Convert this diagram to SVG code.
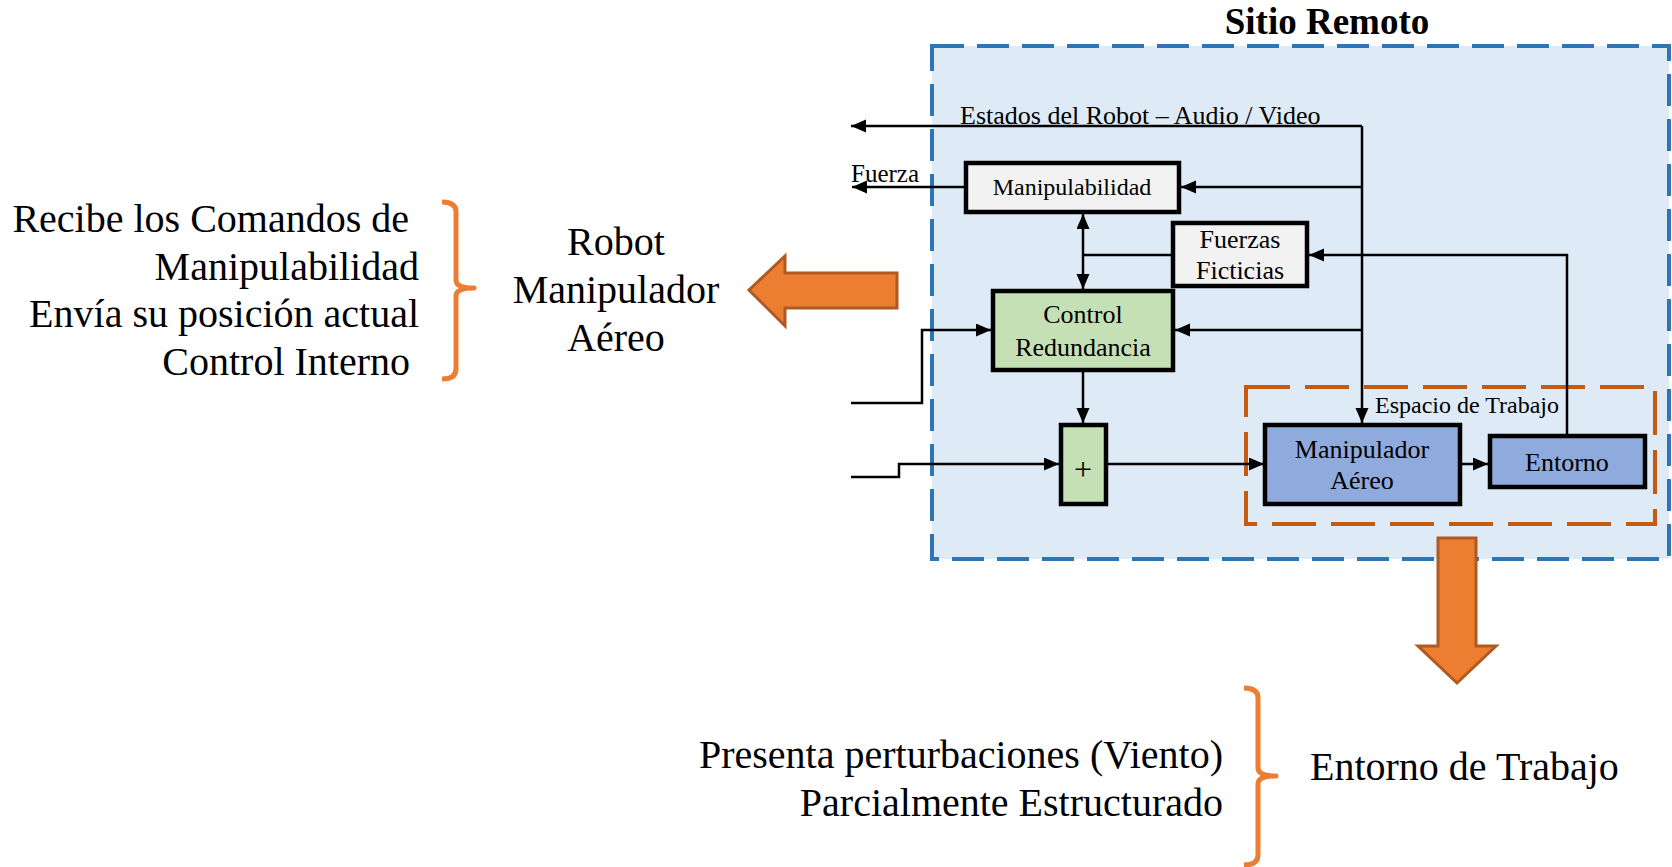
<svg xmlns="http://www.w3.org/2000/svg" width="1672" height="867" viewBox="0 0 1672 867">
<style>
text{font-family:"Liberation Serif","Times New Roman",serif;fill:#000}
.big{font-size:40px}
.lbl{font-size:25px}
.bx{font-size:26px;text-anchor:middle}
.node{stroke:#000;stroke-width:4.5}
.ln{fill:none;stroke:#000;stroke-width:2.5}
.brace{fill:none;stroke:#ED7D31;stroke-width:5;stroke-linejoin:round}
.barrow{fill:#ED7D31;stroke:#AE5A21;stroke-width:3;stroke-linejoin:miter}
</style>
<defs>
<marker id="ah" markerUnits="userSpaceOnUse" markerWidth="16" markerHeight="14" refX="15" refY="6.5" orient="auto-start-reverse" viewBox="0 0 16 14">
<path d="M0,0 L15,6.5 L0,13 z" fill="#000"/>
</marker>
</defs>
<rect width="1672" height="867" fill="#fff"/>

<g id="sitio-remoto">
<rect x="932" y="46" width="737" height="513" fill="#DEEBF7" stroke="#2E75B6" stroke-width="4" stroke-dasharray="32 13"/>
<text x="1327" y="34" text-anchor="middle" style="font-size:37px;font-weight:bold">Sitio Remoto</text>
</g>

<g id="espacio-trabajo">
<rect x="1246" y="387" width="409" height="137" fill="none" stroke="#C55A11" stroke-width="4" stroke-dasharray="44 15"/>
<text x="1375" y="413" style="font-size:24px">Espacio de Trabajo</text>
</g>

<g id="connectors">
<polyline class="ln" points="1362,126 851,126" marker-end="url(#ah)"/>
<line class="ln" x1="1362" y1="126" x2="1362" y2="423" marker-end="url(#ah)"/>
<line class="ln" x1="1362" y1="187" x2="1181" y2="187" marker-end="url(#ah)"/>
<line class="ln" x1="966" y1="187" x2="852" y2="187" marker-end="url(#ah)"/>
<line class="ln" x1="1083" y1="214" x2="1083" y2="289" marker-start="url(#ah)" marker-end="url(#ah)"/>
<line class="ln" x1="1173" y1="255" x2="1083" y2="255"/>
<polyline class="ln" points="1567,436 1567,255 1309,255" marker-end="url(#ah)"/>
<line class="ln" x1="1362" y1="330" x2="1175" y2="330" marker-end="url(#ah)"/>
<polyline class="ln" points="851,403 922,403 922,330 991,330" marker-end="url(#ah)"/>
<polyline class="ln" points="851,477 899,477 899,464 1059,464" marker-end="url(#ah)"/>
<line class="ln" x1="1083" y1="370" x2="1083" y2="423" marker-end="url(#ah)"/>
<line class="ln" x1="1106" y1="464" x2="1264" y2="464" marker-end="url(#ah)"/>
<line class="ln" x1="1460" y1="464" x2="1488" y2="464" marker-end="url(#ah)"/>
<text x="960" y="124" class="lbl" style="font-size:26px">Estados del Robot – Audio / Video</text>
<text x="851" y="182" class="lbl">Fuerza</text>
</g>

<g id="manipulabilidad">
<rect class="node" x="966" y="163" width="213" height="49" fill="#F2F2F2"/>
<text x="1072" y="195" class="bx" style="font-size:24px">Manipulabilidad</text>
</g>
<g id="fuerzas-ficticias">
<rect class="node" x="1173" y="223" width="134" height="63" fill="#F2F2F2"/>
<text x="1240" y="248" class="bx">Fuerzas</text>
<text x="1240" y="279" class="bx">Ficticias</text>
</g>
<g id="control-redundancia">
<rect class="node" x="993" y="291" width="180" height="79" fill="#C5E0B4"/>
<text x="1083" y="323" class="bx">Control</text>
<text x="1083" y="356" class="bx">Redundancia</text>
</g>
<g id="suma">
<rect class="node" x="1061" y="425" width="45" height="79" fill="#C5E0B4"/>
<text x="1083" y="480" class="bx" style="font-size:32px">+</text>
</g>
<g id="manipulador-aereo">
<rect class="node" x="1265" y="425" width="195" height="79" fill="#8FAADC"/>
<text x="1362" y="458" class="bx">Manipulador</text>
<text x="1362" y="489" class="bx">Aéreo</text>
</g>
<g id="entorno">
<rect class="node" x="1490" y="436" width="155" height="51" fill="#8FAADC"/>
<text x="1567" y="471" class="bx">Entorno</text>
</g>

<g id="flecha-izquierda">
<path class="barrow" d="M897,273 L785,273 L785,256 L749,290 L785,326 L785,308 L897,308 Z"/>
</g>
<g id="flecha-abajo">
<path class="barrow" d="M1438,538 L1476,538 L1476,646 L1496,646 L1457,683 L1418,646 L1438,646 Z"/>
</g>

<g id="robot-descripcion">
<text x="409" y="232" class="big" text-anchor="end">Recibe los Comandos de</text>
<text x="419" y="280" class="big" text-anchor="end">Manipulabilidad</text>
<text x="419" y="327" class="big" text-anchor="end">Envía su posición actual</text>
<text x="410" y="375" class="big" text-anchor="end">Control Interno</text>
<path class="brace" d="M442,202 Q456,202 456,212 L456,280 Q456,288 474,288 Q456,288 456,296 L456,369 Q456,379 442,379"/>
</g>
<g id="robot-manipulador">
<text x="616" y="255" class="big" text-anchor="middle">Robot</text>
<text x="616" y="303" class="big" text-anchor="middle">Manipulador</text>
<text x="616" y="351" class="big" text-anchor="middle">Aéreo</text>
</g>

<g id="entorno-descripcion">
<text x="1223" y="768" class="big" text-anchor="end">Presenta perturbaciones (Viento)</text>
<text x="1223" y="816" class="big" text-anchor="end">Parcialmente Estructurado</text>
<path class="brace" d="M1244,688 Q1258,688 1258,698 L1258,768 Q1258,776 1276,776 Q1258,776 1258,784 L1258,855 Q1258,865 1244,865"/>
</g>
<g id="entorno-trabajo">
<text x="1310" y="780" class="big">Entorno de Trabajo</text>
</g>
</svg>
